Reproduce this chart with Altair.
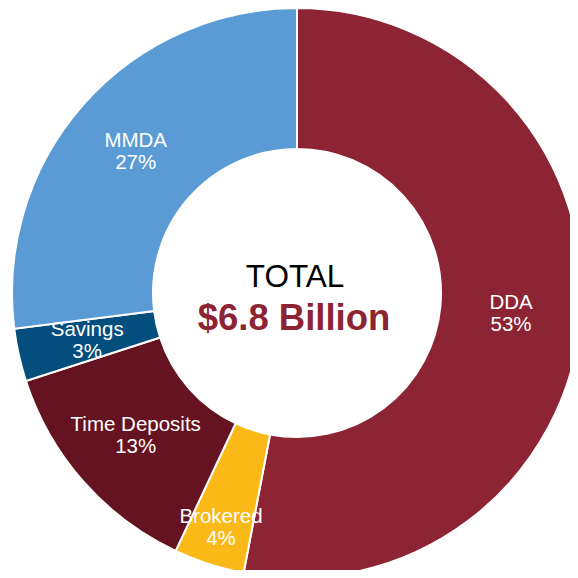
import altair as alt
import pandas as pd

categories = ["DDA", "Brokered", "Time Deposits", "Savings", "MMDA"]
shares = [53, 4, 13, 3, 27]
colors = ["#8C2434", "#FBB918", "#651320", "#034E7D", "#5B9BD5"]

df = pd.DataFrame({
    "cat": categories,
    "share": shares,
    "idx": list(range(len(categories))),
    "label": [f"{c}\n{s}%" for c, s in zip(categories, shares)],
})

CX, CY = 289, 285

base = alt.Chart(df).encode(
    theta=alt.Theta("share:Q", stack=True),
    order=alt.Order("idx:Q"),
)

arcs = base.mark_arc(outerRadius=285, innerRadius=144, stroke="white", strokeWidth=2).encode(
    color=alt.Color("cat:N", scale=alt.Scale(domain=categories, range=colors), legend=None),
    x=alt.value(CX), y=alt.value(CY),
)

text_style = dict(fontSize=20.5, font="Liberation Sans", color="white",
                  lineBreak="\n", lineHeight=22, baseline="middle", align="center")

labels_main = base.mark_text(radius=215, **text_style).encode(
    text=alt.condition(alt.datum.cat == "Brokered", alt.value(""), alt.Text("label:N")),
    x=alt.value(CX), y=alt.value(CY - 10),
)

labels_outer = base.mark_text(radius=246, **text_style).encode(
    text=alt.condition(alt.datum.cat == "Brokered", alt.Text("label:N"), alt.value("")),
    x=alt.value(CX), y=alt.value(CY - 10),
)

center_df = pd.DataFrame({"t": ["TOTAL"]})
total = alt.Chart(center_df).mark_text(fontSize=31.5, font="Liberation Sans", color="black",
                                       baseline="alphabetic", align="center").encode(
    text="t:N", x=alt.value(287), y=alt.value(279))
amount_df = pd.DataFrame({"t": ["$6.8 Billion"]})
amount = alt.Chart(amount_df).mark_text(fontSize=36.5, font="Liberation Sans", fontWeight="bold",
                                        color="#8C2434", baseline="alphabetic", align="center").encode(
    text="t:N", x=alt.value(286), y=alt.value(322))

chart = alt.layer(arcs, labels_main, labels_outer, total, amount).properties(
    width=562, height=562,
    autosize=alt.AutoSizeParams(type="none"),
    padding=0,
).configure_view(stroke=None)

chart.save("out.html", embed_options={"renderer": "svg", "actions": False})
